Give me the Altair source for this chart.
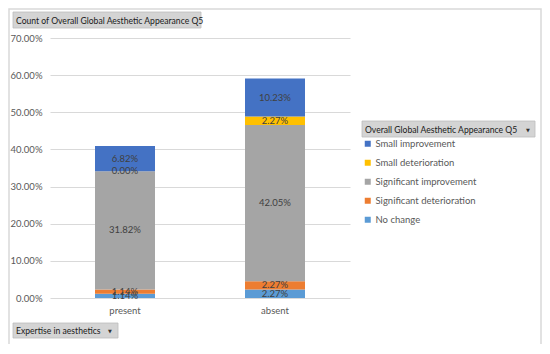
import altair as alt
import pandas as pd

expertise = ["present", "absent"]
categories = ["No change", "Significant deterioration", "Significant improvement",
              "Small deterioration", "Small improvement"]
present_vals = [1.14, 1.14, 31.82, 0.00, 6.82]
absent_vals = [2.27, 2.27, 42.05, 2.27, 10.23]
legend_order = ["Small improvement", "Small deterioration", "Significant improvement",
                "Significant deterioration", "No change"]
legend_colors = ["#4472C4", "#FFC000", "#A5A5A5", "#ED7D31", "#5B9BD5"]
y_ticks = [0.0, 0.1, 0.2, 0.3, 0.4, 0.5, 0.6, 0.7]

rows = []
for ex, vals in zip(expertise, [present_vals, absent_vals]):
    for i, (c, v) in enumerate(zip(categories, vals)):
        rows.append({"expertise": ex, "category": c, "idx": i, "value": v / 100})
df = pd.DataFrame(rows)

FONT = "Lato"
W, H = 300, 260

base = alt.Chart(df).transform_stack(
    stack="value", groupby=["expertise"], as_=["v0", "v1"],
    sort=[alt.SortField("idx", order="ascending")]
).transform_calculate(mid="(datum.v0 + datum.v1) / 2")

xscale = alt.Scale(paddingInner=0, paddingOuter=0)
yscale = alt.Scale(domain=[0, 0.7], nice=False)
xaxis = alt.Axis(domain=False, ticks=False, labelAngle=0, labelColor="#595959",
                 labelFontSize=9.5, labelFont=FONT, labelPadding=7, grid=False)
yaxis = alt.Axis(values=y_ticks, format=".2%", domain=False, ticks=False,
                 labelOverlap=False, labelColor="#595959", labelFontSize=9.5,
                 labelFont=FONT, labelPadding=8, gridColor="#D9D9D9", gridWidth=1)

bars = base.mark_bar(size=60).encode(
    x=alt.X("expertise:N", sort=expertise, title=None, scale=xscale, axis=xaxis),
    y=alt.Y("v0:Q", title=None, scale=yscale, axis=yaxis),
    y2="v1:Q",
    color=alt.Color("category:N",
                    scale=alt.Scale(domain=legend_order, range=legend_colors),
                    legend=alt.Legend(orient="none", legendX=313, legendY=101, title=None,
                                      symbolType="square", symbolSize=36,
                                      symbolStrokeWidth=0, labelFontSize=9.5,
                                      labelFont=FONT, labelColor="#595959",
                                      rowPadding=8, labelOffset=3)),
)

labels = base.mark_text(fontSize=9.5, font=FONT, color="#404040").encode(
    x=alt.X("expertise:N", sort=expertise, title=None, scale=xscale, axis=xaxis),
    y=alt.Y("mid:Q", title=None, scale=yscale, axis=yaxis),
    text=alt.Text("value:Q", format=".2%"),
)

one = alt.Data(values=[{}])
BFS = 8.6

def button(x0, x1, y0, y1, label, tri):
    r = alt.Chart(one).mark_rect(fill="#D4D4D4", stroke="#BDBDBD", strokeWidth=0.8).encode(
        x=alt.value(x0), x2=alt.value(x1), y=alt.value(y0), y2=alt.value(y1))
    t = alt.Chart(one).mark_text(align="left", baseline="middle", fontSize=BFS, font=FONT,
                                  color="#1a1a1a").encode(
        x=alt.value(x0 + 3), y=alt.value((y0 + y1) / 2 + 0.5), text=alt.value(label))
    layers = [r, t]
    if tri is not None:
        p = alt.Chart(one).mark_text(align="center", baseline="middle", fontSize=5,
                                     font="DejaVu Sans", color="#333333").encode(
            x=alt.value(tri), y=alt.value((y0 + y1) / 2 + 0.5), text=alt.value("\u25BC"))
        layers.append(p)
    return layers

frame = alt.Chart(one).mark_rect(fill="transparent", stroke="#D9D9D9", strokeWidth=1.5).encode(
    x=alt.value(-41), x2=alt.value(491), y=alt.value(-29), y2=alt.value(307))

deco = (button(-37, 151, -26, -10, "Count of Overall Global Aesthetic Appearance Q5", None)
        + button(312, 485, 83, 99, "Overall Global Aesthetic Appearance Q5", 478)
        + button(-37, 68, 285, 300, "Expertise in aesthetics", 60))

chart = alt.layer(frame, bars, labels, *deco).properties(
    width=W, height=H,
    autosize=alt.AutoSizeParams(type="none"),
    padding={"left": 42, "top": 30, "right": 192, "bottom": 46},
).configure_view(stroke=None)

chart.save("out.html", embed_options={"renderer": "svg", "actions": False})
